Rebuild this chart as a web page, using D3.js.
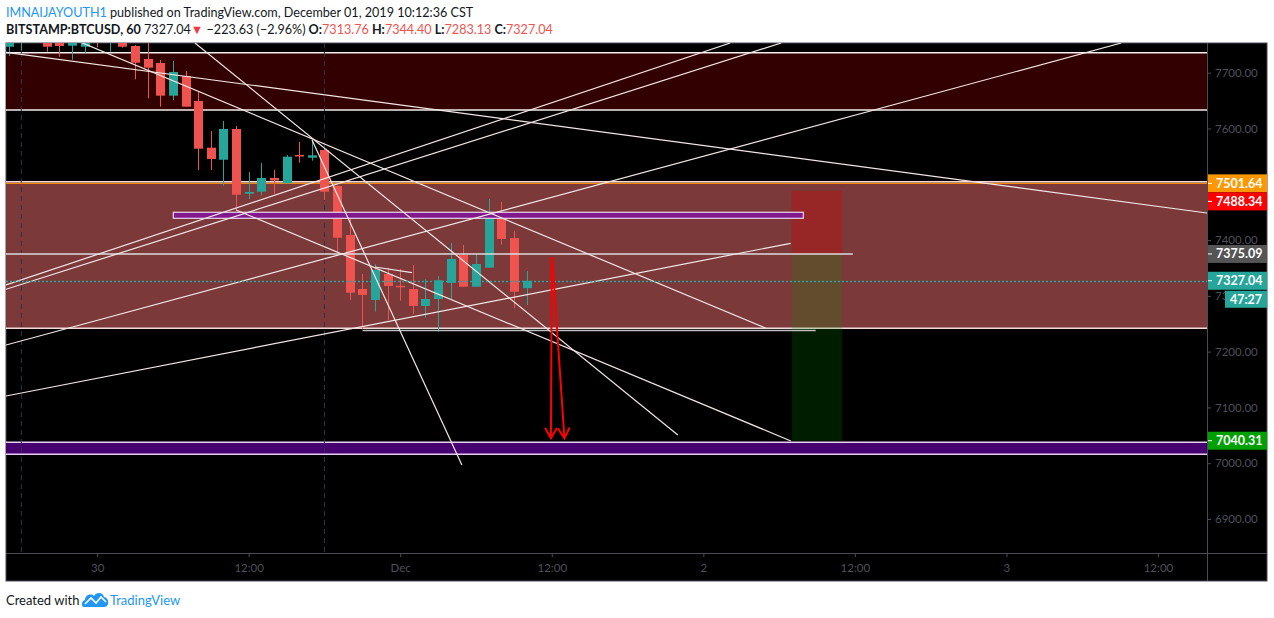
<!DOCTYPE html>
<html lang="en">
<head>
<meta charset="utf-8">
<title>BITSTAMP:BTCUSD, 60</title>
<script src="https://cdn.jsdelivr.net/npm/d3@7"></script>
<style>
body { margin: 0; background: #ffffff; }
svg text { font-family: Lato, "Open Sans", sans-serif; }
</style>
</head>
<body>
<script>
// ---- data ----
var authorName = "IMNAIJAYOUTH1";
var publishText = " published on TradingView.com, December 01, 2019 10:12:36 CST";
var symbolName = "BITSTAMP:BTCUSD, 60";
var lastPrice = 7327.04;
var changeText = "\u2212223.63 (\u22122.96%)";
var ohlcNames = ["O:", "H:", "L:", "C:"];
var ohlcValues = ["7313.76", "7344.40", "7283.13", "7327.04"];

var viewStart = "2019-11-29T16:47";
var viewEnd = "2019-12-03T15:53";

var candleTimes = [
    "2019-11-29T17:00", "2019-11-29T18:00", "2019-11-29T19:00", "2019-11-29T20:00",
    "2019-11-29T21:00", "2019-11-29T22:00", "2019-11-29T23:00", "2019-11-30T00:00",
    "2019-11-30T01:00", "2019-11-30T02:00", "2019-11-30T03:00", "2019-11-30T04:00",
    "2019-11-30T05:00", "2019-11-30T06:00", "2019-11-30T07:00", "2019-11-30T08:00",
    "2019-11-30T09:00", "2019-11-30T10:00", "2019-11-30T11:00", "2019-11-30T12:00",
    "2019-11-30T13:00", "2019-11-30T14:00", "2019-11-30T15:00", "2019-11-30T16:00",
    "2019-11-30T17:00", "2019-11-30T18:00", "2019-11-30T19:00", "2019-11-30T20:00",
    "2019-11-30T21:00", "2019-11-30T22:00", "2019-11-30T23:00", "2019-12-01T00:00",
    "2019-12-01T01:00", "2019-12-01T02:00", "2019-12-01T03:00", "2019-12-01T04:00",
    "2019-12-01T05:00", "2019-12-01T06:00", "2019-12-01T07:00", "2019-12-01T08:00",
    "2019-12-01T09:00", "2019-12-01T10:00"
];
var opens = [
    7746.6, 7758, 7762, 7768, 7760, 7748.4, 7746.6, 7772, 7758, 7768,
    7747.9, 7724.6, 7717.4, 7658.8, 7694.1, 7649.3, 7565.6, 7544, 7599.1, 7483.1,
    7486.7, 7511.3, 7501.8, 7552.5, 7547.6, 7561.4, 7496.9, 7409.1, 7312.3, 7292.6,
    7339.2, 7318, 7312.3, 7281.8, 7294.4, 7323.1, 7373.2, 7316.4, 7350.5, 7440.1,
    7403.7, 7313.76
];
var highs = [
    7770, 7768, 7778, 7775, 7766, 7770, 7772, 7780, 7776, 7774,
    7749.6, 7760, 7722.8, 7721, 7703, 7665.9, 7595.5, 7613.4, 7604.5, 7522,
    7538.1, 7525.6, 7552.5, 7575.8, 7579.4, 7565, 7498, 7443.1, 7339.2, 7357.1,
    7350.5, 7348.2, 7355.3, 7329.7, 7335.6, 7394.8, 7391.2, 7376.3, 7473.6, 7468.3,
    7416.3, 7344.40
];
var lows = [
    7729.9, 7739.4, 7756, 7737.6, 7728.7, 7723.3, 7734.1, 7745.5, 7737.6, 7744.8,
    7688.2, 7654.1, 7639.1, 7651.1, 7639.1, 7525.6, 7525.6, 7497.5, 7453.9, 7473.6,
    7479.9, 7482.6, 7501.8, 7538.7, 7542.3, 7471.8, 7376.8, 7292.6, 7240.1, 7271.6,
    7256.7, 7291.4, 7267.5, 7260.9, 7235.8, 7292.6, 7316.4, 7316.4, 7350.5, 7392,
    7277.7, 7283.13
];
var closes = [
    7765, 7762, 7770, 7746.6, 7747.9, 7762, 7765, 7758, 7768, 7746.6,
    7717.9, 7709, 7658.8, 7701.3, 7639.1, 7563.8, 7545.3, 7599.1, 7481.3, 7486.2,
    7511.3, 7506.8, 7549.4, 7551.3, 7551.9, 7486.7, 7404.3, 7305.7, 7301.6, 7346.4,
    7317.7, 7317.1, 7281.8, 7294.4, 7327.9, 7366.1, 7316.4, 7357.1, 7446.7, 7401.9,
    7307.5, 7327.04
];

var priceTicks = [6900, 7000, 7100, 7200, 7300, 7400, 7500, 7600, 7700];
var timeTicks = ["2019-11-30T00:00", "2019-11-30T12:00", "2019-12-01T00:00", "2019-12-01T12:00",
                 "2019-12-02T00:00", "2019-12-02T12:00", "2019-12-03T00:00", "2019-12-03T12:00"];
var timeTickLabels = ["30", "12:00", "Dec", "12:00", "2", "12:00", "3", "12:00"];
var sessionBreaks = ["2019-11-29T18:00", "2019-11-30T18:00"];

// horizontal zones (top price, bottom price)
var zoneTops = [7735.8, 7504.6, 7037.5];
var zoneBottoms = [7633, 7241.9, 7016];

// purple bar
var barStart = "2019-11-30T06:02", barEnd = "2019-12-02T07:55";
var barTop = 7449.8, barBottom = 7439;

// horizontal rays
var hlineStarts = ["2019-11-29T16:47", "2019-11-30T21:01"];
var hlineEnds = ["2019-12-02T11:50", "2019-12-02T08:54"];
var hlinePrices = [7375.09, 7238];

// trend lines: start time, start price, end time, end price
var trendStartTimes = ["2019-11-29T16:47", "2019-11-29T22:39", "2019-11-30T07:45", "2019-11-30T17:01",
                       "2019-11-29T16:47", "2019-11-29T16:47", "2019-11-29T16:47", "2019-11-29T16:47",
                       "2019-11-30T11:00", "2019-11-30T22:00"];
var trendStartPrices = [7736.6, 7755, 7753.2, 7579.4, 7319.5, 7311.8, 7211.9, 7120.5, 7453.9, 7351.7];
var trendEndTimes = ["2019-12-03T15:53", "2019-12-02T04:58", "2019-12-01T21:59", "2019-12-01T04:53",
                     "2019-12-02T02:08", "2019-12-02T06:10", "2019-12-03T09:06", "2019-12-02T06:55",
                     "2019-12-02T06:56", "2019-12-01T00:56"];
var trendEndPrices = [7448.5, 7241.9, 7050.6, 6996.8, 7753.2, 7753.2, 7753.2, 7394.2, 7039.9, 7341.5];

// short position tool
var positionStart = "2019-12-02T07:00", positionEnd = "2019-12-02T11:00";
var entryPrice = 7375.09, stopPrice = 7488.34, targetPrice = 7040.31;

// red arrows
var arrowStartTimes = ["2019-12-01T12:00", "2019-12-01T12:02"];
var arrowStartPrices = [7370.2, 7369];
var arrowEndTimes = ["2019-12-01T11:56", "2019-12-01T13:00"];
var arrowEndPrices = [7044.7, 7044.7];

var levelLine = 7501.64;
var countdown = "47:27";

// ---- drawing ----
var W = 1274, H = 618;
var plot = { left: 6, right: 1207, top: 43, bottom: 553 };
var frameRight = 1267, frameBottom = 581;
var parseT = d3.utcParse("%Y-%m-%dT%H:%M");

var svg = d3.select("body").append("svg")
    .attr("width", W)
    .attr("height", H);

var xScale = d3.scaleUtc()
    .domain([parseT(viewStart), parseT(viewEnd)])
    .range([plot.left, plot.right]);
var yScale = d3.scaleLinear()
    .domain([6900, 7700])
    .range([519, 72.7]);

// header
var head1 = svg.append("text").attr("x", 6).attr("y", 17).attr("font-size", "12.6px");
head1.append("tspan").attr("fill", "#2196f3").text(authorName);
head1.append("tspan").attr("fill", "#131722").text(publishText);

var head2 = svg.append("text").attr("x", 6).attr("y", 34).attr("font-size", "12.6px").attr("fill", "#131722");
head2.append("tspan").attr("font-weight", "bold").text(symbolName);
head2.append("tspan").text(" " + lastPrice.toFixed(2));
head2.append("tspan").attr("fill", "#f23645").text("\u25BC");
head2.append("tspan").text(" " + changeText);
ohlcNames.forEach(function(n, i) {
    head2.append("tspan").attr("font-weight", "bold").text(" " + n);
    head2.append("tspan").attr("fill", "#ef5350").text(ohlcValues[i]);
});

// frame
svg.append("rect")
    .attr("x", plot.left).attr("y", plot.top)
    .attr("width", frameRight - plot.left).attr("height", frameBottom - plot.top)
    .attr("fill", "#000000")
    .attr("stroke", "#4a4d57").attr("stroke-width", 1);

svg.append("clipPath").attr("id", "plotclip")
    .append("rect")
    .attr("x", plot.left).attr("y", plot.top)
    .attr("width", plot.right - plot.left).attr("height", plot.bottom - plot.top);

var g = svg.append("g").attr("clip-path", "url(#plotclip)");

// zones
var zoneFills = ["#320000", "#7b3939", "#460070"];
var zoneStrokes = ["#f4eded", "#f3d9d9", "#e6ccf2"];
zoneTops.forEach(function(top, i) {
    g.append("rect")
        .attr("x", plot.left).attr("width", plot.right - plot.left)
        .attr("y", yScale(top)).attr("height", yScale(zoneBottoms[i]) - yScale(top))
        .attr("fill", zoneFills[i]);
    [top, zoneBottoms[i]].forEach(function(p) {
        g.append("line")
            .attr("x1", plot.left).attr("x2", plot.right)
            .attr("y1", yScale(p)).attr("y2", yScale(p))
            .attr("stroke", zoneStrokes[i]).attr("stroke-width", 1.5);
    });
});

// session breaks
sessionBreaks.forEach(function(t) {
    g.append("line")
        .attr("x1", xScale(parseT(t))).attr("x2", xScale(parseT(t)))
        .attr("y1", plot.top).attr("y2", plot.bottom)
        .attr("stroke", "#2f3548").attr("stroke-dasharray", "5,4");
});

// orange level
g.append("line")
    .attr("x1", plot.left).attr("x2", plot.right)
    .attr("y1", yScale(levelLine)).attr("y2", yScale(levelLine))
    .attr("stroke", "#ff9800").attr("stroke-width", 1);

// position tool
var px1 = xScale(parseT(positionStart)), px2 = xScale(parseT(positionEnd));
g.append("rect")
    .attr("x", px1).attr("width", px2 - px1)
    .attr("y", yScale(stopPrice)).attr("height", yScale(entryPrice) - yScale(stopPrice))
    .attr("fill", "rgba(215,0,0,0.3)");
g.append("rect")
    .attr("x", px1).attr("width", px2 - px1)
    .attr("y", yScale(entryPrice)).attr("height", yScale(targetPrice) - yScale(entryPrice))
    .attr("fill", "rgba(0,153,0,0.19)");

// candles
var candles = candleTimes.map(function(t, i) {
    return { t: parseT(t), o: opens[i], h: highs[i], l: lows[i], c: closes[i] };
});
var cg = g.selectAll(".candle").data(candles).enter().append("g").attr("class", "candle");
cg.append("line")
    .attr("x1", function(d) { return Math.round(xScale(d.t)) + 0.5; })
    .attr("x2", function(d) { return Math.round(xScale(d.t)) + 0.5; })
    .attr("y1", function(d) { return yScale(d.h); })
    .attr("y2", function(d) { return yScale(d.l); })
    .attr("stroke", function(d) { return d.c >= d.o ? "#26a69a" : "#ef5350"; });
cg.append("rect")
    .attr("x", function(d) { return Math.round(xScale(d.t)) - 4; })
    .attr("width", 9)
    .attr("y", function(d) { return yScale(Math.max(d.o, d.c)); })
    .attr("height", function(d) { return Math.max(1.5, Math.abs(yScale(d.o) - yScale(d.c))); })
    .attr("fill", function(d) { return d.c >= d.o ? "#26a69a" : "#ef5350"; });

// purple bar
g.append("rect")
    .attr("x", xScale(parseT(barStart)))
    .attr("width", xScale(parseT(barEnd)) - xScale(parseT(barStart)))
    .attr("y", yScale(barTop)).attr("height", yScale(barBottom) - yScale(barTop))
    .attr("fill", "#80198c").attr("stroke", "#ecd2f2").attr("stroke-width", 1.2);

// horizontal rays
hlinePrices.forEach(function(p, i) {
    g.append("line")
        .attr("x1", xScale(parseT(hlineStarts[i]))).attr("x2", xScale(parseT(hlineEnds[i])))
        .attr("y1", yScale(p)).attr("y2", yScale(p))
        .attr("stroke", i === 0 ? "#dcdcdc" : "#bdbdbd").attr("stroke-width", 1.5);
});

// trend lines
trendStartTimes.forEach(function(t, i) {
    g.append("line")
        .attr("x1", xScale(parseT(t))).attr("y1", yScale(trendStartPrices[i]))
        .attr("x2", xScale(parseT(trendEndTimes[i]))).attr("y2", yScale(trendEndPrices[i]))
        .attr("stroke", "#f5e6e6").attr("stroke-width", 1.2);
});

// last price dotted line
g.append("line")
    .attr("x1", plot.left).attr("x2", plot.right)
    .attr("y1", Math.round(yScale(lastPrice)) + 0.5).attr("y2", Math.round(yScale(lastPrice)) + 0.5)
    .attr("stroke", "#26a69a").attr("stroke-width", 1.3).attr("stroke-dasharray", "2,2");

// arrows
arrowStartTimes.forEach(function(t, i) {
    var x1 = xScale(parseT(t)), y1 = yScale(arrowStartPrices[i]);
    var x2 = xScale(parseT(arrowEndTimes[i])), y2 = yScale(arrowEndPrices[i]);
    var ang = Math.atan2(y2 - y1, x2 - x1);
    var len = 12, spread = Math.PI / 6;
    var path = "M" + x1 + "," + y1 + "L" + x2 + "," + y2 +
        "M" + (x2 - len * Math.cos(ang - spread)) + "," + (y2 - len * Math.sin(ang - spread)) +
        "L" + x2 + "," + y2 +
        "L" + (x2 - len * Math.cos(ang + spread)) + "," + (y2 - len * Math.sin(ang + spread));
    g.append("path").attr("d", path)
        .attr("fill", "none").attr("stroke", "#ff0000").attr("stroke-width", 2);
});

// price labels on the axis (positions worked out first, so covered ticks can be hidden)
var labelValues = [levelLine, stopPrice, entryPrice, lastPrice, targetPrice];
var labelColors = ["#ff9800", "#ff0000", "#555555", "#26a69a", "#00a000"];
var placed = labelValues.map(function(v, i) { return { v: v, c: labelColors[i], y: yScale(v) }; })
    .sort(function(a, b) { return a.y - b.y; });
for (var k = 1; k < placed.length; k++) {
    if (placed[k].y - placed[k - 1].y < 18) placed[k].y = placed[k - 1].y + 18;
}
var lastY = placed.filter(function(d) { return d.v === lastPrice; })[0].y;

// axes
var yAxis = d3.axisRight(yScale)
    .tickValues(priceTicks)
    .tickSize(4)
    .tickFormat(d3.format(".2f"));
var yg = svg.append("g").attr("transform", "translate(" + plot.right + ",0)").call(yAxis);
yg.select(".domain").attr("stroke", "#4a4d57").attr("d", "M0.5," + plot.top + "V" + frameBottom);
yg.selectAll(".tick line").attr("stroke", "#4a4d57");
yg.selectAll(".tick text").attr("fill", "#4d505a").attr("font-size", "11.5px").attr("x", 8)
    .style("display", function(d) {
        var ty = yScale(d);
        var hidden = placed.some(function(p) { return Math.abs(p.y - ty) < 6; });
        return hidden ? "none" : null;
    });

// the 7300 tick sits behind the countdown box: show only the part left of it
svg.append("clipPath").attr("id", "countclip")
    .append("rect").attr("x", 0).attr("y", -10).attr("width", 1225 - plot.right).attr("height", 20);
yg.selectAll(".tick")
    .filter(function(d) { return Math.abs(yScale(d) - (lastY + 18.5)) < 9; })
    .select("text").attr("clip-path", "url(#countclip)");

var xAxis = d3.axisBottom(xScale)
    .tickValues(timeTicks.map(parseT))
    .tickSize(4)
    .tickFormat(function(d, i) { return timeTickLabels[i]; });
var xg = svg.append("g").attr("transform", "translate(0," + plot.bottom + ")").call(xAxis);
xg.select(".domain").attr("stroke", "#4a4d57").attr("d", "M" + plot.left + ",0.5H" + frameRight);
xg.selectAll(".tick line").attr("stroke", "#4a4d57");
xg.selectAll(".tick text").attr("fill", "#4d505a").attr("font-size", "11.5px").attr("dy", "1.05em");

placed.forEach(function(d) {
    svg.append("rect")
        .attr("x", plot.right + 1).attr("y", d.y - 9)
        .attr("width", frameRight - plot.right - 1).attr("height", 18)
        .attr("fill", d.c);
    svg.append("line")
        .attr("x1", plot.right + 1).attr("x2", plot.right + 5)
        .attr("y1", d.y).attr("y2", d.y)
        .attr("stroke", "#ffffff");
    svg.append("text")
        .attr("x", plot.right + 9).attr("y", d.y).attr("dy", "0.35em")
        .attr("fill", "#ffffff").attr("font-size", "12.5px").attr("font-weight", "bold")
        .text(d.v.toFixed(2));
});
svg.append("rect")
    .attr("x", 1225).attr("y", lastY + 10)
    .attr("width", frameRight - 1225).attr("height", 17)
    .attr("fill", "#26a69a");
svg.append("text")
    .attr("x", 1246).attr("y", lastY + 18.5).attr("dy", "0.35em")
    .attr("text-anchor", "middle")
    .attr("fill", "#ffffff").attr("font-size", "12.5px").attr("font-weight", "bold")
    .text(countdown);

// footer
svg.append("text").attr("x", 6).attr("y", 605).attr("font-size", "13px")
    .attr("fill", "#131722").text("Created with");
var logo = svg.append("g").attr("transform", "translate(82,592)");
logo.append("path")
    .attr("d", "M2,15 C-1,15 -1,9 3,8 C3,3 9,1 12,4 C14,0 21,0 22,5 C27,5 28,14 23,15 Z")
    .attr("fill", "#2196f3");
logo.append("path")
    .attr("d", "M3,12 L9,6 L14,11 L19,5 L24,10")
    .attr("fill", "none").attr("stroke", "#ffffff").attr("stroke-width", 1.6);
svg.append("text").attr("x", 110).attr("y", 605).attr("font-size", "13px")
    .attr("fill", "#2196f3").text("TradingView");
</script>
</body>
</html>
